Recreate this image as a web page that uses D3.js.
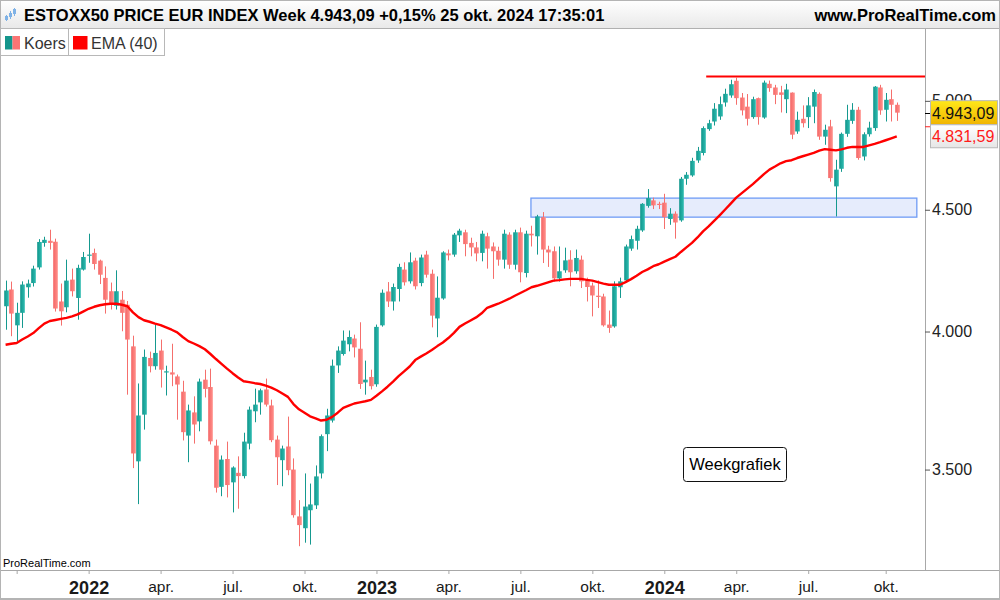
<!DOCTYPE html>
<html><head><meta charset="utf-8">
<script src="https://cdn.jsdelivr.net/npm/d3@7"></script>
<style>body{margin:0;background:#fff}svg{display:block;font-family:"Liberation Sans",Arial,sans-serif}</style>
</head><body><svg id="c" width="1000" height="600"></svg>
<script>
// ---- data (weekly candles, first week starting Monday 2021-09-20) ----
const startWeek = "2021-09-20";
const open = [4099,4166,4024,4073,4175,4192,4256,4358,4367,4363,4118,4095,4206,4132,4247,4305,4316,4284,4213,4159,
4101,4125,4105,3943,3528,3691,3899,3868,3927,3847,3845,3830,3774,3617,3699,3667,3818,3791,3582,3442,
3536,3457,3489,3478,3589,3703,3735,3782,3724,3603,3532,3579,3500,3345,3307,3365,3381,3487,3622,3670,
3871,3914,3951,3973,3934,3808,3828,3801,4024,4158,4118,4168,4247,4199,4284,4192,4309,4230,4051,4130,
4314,4309,4390,4403,4358,4339,4316,4386,4343,4325,4288,4393,4267,4403,4233,4397,4386,4468,4330,4323,
4211,4244,4288,4240,4288,4203,4182,4141,4138,4027,4020,4175,4203,4334,4367,4411,4517,4541,4526,4531,
4460,4483,4454,4637,4652,4720,4754,4865,4901,4925,4992,5026,5098,5016,4972,4922,5013,4920,5083,5065,
5041,5008,5040,4854,4914,4922,4972,5034,4830,4878,4603,4682,4843,4904,4957,4738,4841,4870,5065,4957,
5008,4981];
const high = [4202,4198,4113,4199,4206,4263,4374,4384,4414,4376,4190,4288,4251,4267,4320,4397,4334,4288,4260,4194,
4244,4160,4120,3984,3804,3931,3923,4027,3969,3870,3953,3837,3814,3727,3757,3822,3855,3859,3603,3548,
3596,3511,3545,3627,3720,3785,3785,3822,3745,3617,3582,3684,3538,3398,3487,3453,3514,3621,3712,3893,
3943,4004,4004,3988,4036,3889,3855,4027,4166,4196,4190,4271,4277,4318,4296,4309,4325,4247,4219,4323,
4330,4400,4418,4414,4380,4362,4410,4401,4360,4342,4414,4403,4414,4423,4410,4431,4478,4490,4346,4343,
4343,4338,4327,4330,4305,4214,4194,4203,4149,4082,4199,4214,4351,4389,4431,4529,4591,4553,4535,4570,
4507,4493,4645,4667,4732,4782,4878,4909,4989,5021,5059,5103,5116,5038,5033,5020,5016,5099,5099,5078,
5073,5083,5041,4948,4978,5018,5055,5041,4886,4909,4723,4849,4981,4989,4971,4850,4900,5072,5078,5038,
5055,4992];
const low = [4007,3982,3962,4014,4133,4178,4247,4342,4330,4078,4023,4075,4138,4046,4243,4275,4247,4188,4070,4086,
4086,4001,3763,3505,3385,3638,3845,3855,3789,3760,3794,3673,3600,3525,3589,3632,3753,3586,3423,3411,
3407,3358,3370,3470,3569,3664,3691,3720,3594,3448,3444,3481,3341,3250,3261,3255,3369,3470,3563,3663,
3843,3908,3924,3901,3784,3763,3782,3792,4019,4096,4082,4118,4182,4190,4166,4179,4214,4016,3978,4125,
4285,4300,4362,4302,4302,4281,4281,4251,4209,4263,4251,4250,4247,4195,4215,4343,4309,4274,4258,4198,
4198,4234,4179,4230,4172,4118,4059,4092,4019,3995,4015,4132,4194,4325,4330,4405,4509,4503,4503,4417,
4435,4376,4448,4610,4646,4709,4743,4857,4882,4909,4972,5015,4981,4930,4882,4914,4886,4914,5044,4984,
4944,4941,4818,4843,4873,4870,4893,4815,4792,4624,4471,4668,4829,4890,4723,4720,4830,4857,4933,4901,
4901,4904];
const close = [4162,4070,4073,4186,4190,4251,4362,4371,4358,4090,4079,4202,4159,4254,4299,4309,4270,4226,4125,4105,
4159,4073,3969,3555,3688,3903,3868,3918,3855,3849,3837,3800,3629,3706,3656,3811,3784,3597,3439,3534,
3448,3507,3478,3596,3709,3727,3779,3727,3601,3542,3572,3498,3349,3317,3377,3384,3477,3615,3688,3870,
3927,3965,3979,3939,3802,3818,3794,4018,4153,4118,4176,4258,4195,4277,4179,4297,4226,4062,4133,4318,
4306,4393,4410,4353,4339,4314,4397,4334,4323,4288,4397,4267,4403,4236,4397,4390,4471,4330,4318,4211,
4240,4285,4236,4295,4199,4176,4142,4136,4024,4014,4179,4199,4343,4374,4418,4526,4551,4519,4524,4468,
4483,4445,4637,4655,4718,4764,4870,4893,4962,4984,5034,5081,5013,4954,4914,5008,4922,5089,5062,5029,
5029,5055,4839,4909,4893,4978,5043,4830,4862,4640,4678,4843,4909,4957,4731,4841,4872,5069,4954,5005,
4981,4943.09];
const ema40 = [3949,3953,3956,3969,3981,3994,4013,4031,4041,4045,4049,4053,4059,4067,4078,4089,4097,4103,4107,4109,
4109,4105,4099,4075,4056,4044,4038,4031,4025,4016,4007,3997,3979,3963,3954,3944,3932,3914,3895,3877,
3859,3842,3826,3812,3809,3805,3802,3796,3789,3779,3767,3755,3729,3710,3698,3685,3678,3670,3673,3683,
3698,3715,3723,3731,3735,3739,3744,3759,3775,3792,3811,3831,3849,3867,3891,3904,3916,3929,3944,3958,
3975,3995,4018,4031,4043,4055,4071,4093,4101,4109,4119,4129,4141,4152,4163,4175,4181,4188,4195,4202,
4204,4207,4209,4209,4209,4205,4202,4196,4190,4185,4185,4185,4196,4208,4222,4237,4248,4261,4269,4280,
4290,4300,4320,4339,4358,4381,4407,4428,4452,4476,4501,4527,4553,4573,4593,4613,4635,4658,4678,4692,
4707,4717,4721,4731,4739,4747,4755,4765,4772,4769,4766,4771,4778,4782,4782,4782,4789,4796,4804,4813,
4822,4831.59];
const tickWeeks = ["2021-10-04","2022-01-03","2022-04-04","2022-07-04","2022-10-03","2023-01-02","2023-04-03","2023-07-03","2023-10-02","2024-01-01","2024-04-01","2024-07-01","2024-10-07"];
const tickLabels = ["","2022","apr.","jul.","okt.","2023","apr.","jul.","okt.","2024","apr.","jul.","okt."];
const priceTicks = [3500,4000,4500,5000];
const zoneWeeks = ["2023-07-17","2024-11-16"];
const zonePrices = [4468,4551];
const resistanceWeeks = ["2024-02-23","2024-12-30"];
const resistancePrice = [5119];
const titleText = ["ESTOXX50 PRICE EUR INDEX Week", "+0,15% 25 okt. 2024 17:35:01"];

// ---- setup ----
const svg = d3.select("#c");
const W = 1000, H = 600, PL = 0, PR = 925, PT = 28, PB = 570;
const parse = d3.utcParse("%Y-%m-%d");
const start = parse(startWeek);
const weeks = close.map((_, i) => d3.utcMonday.offset(start, i));
const nl = d3.formatLocale({decimal: ",", thousands: ".", grouping: [3], currency: ["", ""]});
const f2 = nl.format(",.2f"), f0 = nl.format(",.0f");

const x = d3.scaleUtc()
  .domain([new Date(+start - 7.08 * 864e5), new Date(+start + 7 * 166.1 * 864e5)])
  .range([PL, PR]);
const y = d3.scaleLog().domain([3176, 5365]).range([PB, PT]);

const defs = svg.append("defs");
function grad(id, stops, vertical) {
  const g = defs.append("linearGradient").attr("id", id)
    .attr("x1", 0).attr("y1", 0).attr("x2", vertical ? 0 : 1).attr("y2", vertical ? 1 : 0);
  stops.forEach(([o, c]) => g.append("stop").attr("offset", o).attr("stop-color", c));
}
grad("gUp", [[0, "#0f958b"], [0.6, "#22ada2"], [1, "#2fbcb1"]]);
grad("gDn", [[0, "#f46565"], [0.6, "#fb7f7c"], [1, "#ff908b"]]);
grad("gHead", [[0, "#ffffff"], [1, "#e9e9e9"]], true);
grad("gYel", [[0, "#ffe81a"], [1, "#f0b400"]], true);
grad("gGray", [[0, "#ffffff"], [1, "#e6e6e6"]], true);
defs.append("clipPath").attr("id", "clip").append("rect")
  .attr("x", PL).attr("y", PT).attr("width", PR - PL).attr("height", PB - PT);

svg.append("rect").attr("width", W).attr("height", H).attr("fill", "#fff");

const plot = svg.append("g").attr("clip-path", "url(#clip)");

// zone
plot.append("rect")
  .attr("x", x(parse(zoneWeeks[0])) - 0.5)
  .attr("y", y(zonePrices[1]))
  .attr("width", x(parse(zoneWeeks[1])) - x(parse(zoneWeeks[0])))
  .attr("height", y(zonePrices[0]) - y(zonePrices[1]))
  .attr("fill", "#e6ecfc").attr("stroke", "#6f9cf5").attr("stroke-width", 1.3);

// resistance
plot.append("line")
  .attr("x1", x(parse(resistanceWeeks[0]))).attr("x2", x(parse(resistanceWeeks[1])))
  .attr("y1", y(resistancePrice[0])).attr("y2", y(resistancePrice[0]))
  .attr("stroke", "#ff0000").attr("stroke-width", 2.2);

// candles
const cd = weeks.map((d, i) => ({d, o: open[i], h: high[i], l: low[i], c: close[i]}));
const cg = plot.append("g");
cg.selectAll("line.w").data(cd).join("line").attr("class", "w")
  .attr("x1", d => Math.round(x(d.d)) + 0.5).attr("x2", d => Math.round(x(d.d)) + 0.5)
  .attr("y1", d => y(d.h)).attr("y2", d => y(d.l))
  .attr("stroke", d => d.c >= d.o ? "#15998f" : "#f56f6c").attr("stroke-width", 1);
cg.selectAll("rect.b").data(cd).join("rect").attr("class", "b")
  .attr("x", d => Math.round(x(d.d)) - 1.8).attr("width", 4.6)
  .attr("y", d => y(Math.max(d.o, d.c)))
  .attr("height", d => Math.max(1.2, Math.abs(y(d.o) - y(d.c))))
  .attr("fill", d => d.c >= d.o ? "url(#gUp)" : "url(#gDn)");

// EMA
plot.append("path").datum(ema40)
  .attr("d", d3.line().x((d, i) => x(weeks[i])).y(d => y(d)).curve(d3.curveLinear))
  .attr("fill", "none").attr("stroke", "#ff0000").attr("stroke-width", 2.4).attr("stroke-linejoin", "round");

// frame lines
svg.append("line").attr("x1", PR + 0.5).attr("x2", PR + 0.5).attr("y1", PT).attr("y2", PB).attr("stroke", "#a8a8a8");
svg.append("line").attr("x1", 0).attr("x2", W).attr("y1", PB + 0.5).attr("y2", PB + 0.5).attr("stroke", "#a8a8a8");
svg.append("line").attr("x1", 0).attr("x2", W).attr("y1", H - 1.5).attr("y2", H - 1.5).attr("stroke", "#b4b4b4");
svg.append("line").attr("x1", 0.5).attr("x2", 0.5).attr("y1", PT).attr("y2", H).attr("stroke", "#b4b4b4");

// x axis
const xa = svg.append("g").attr("transform", `translate(0,${PB})`)
  .call(d3.axisBottom(x).tickValues(tickWeeks.map(parse)).tickSize(4).tickPadding(7)
    .tickFormat((d, i) => tickLabels[i]));
xa.select(".domain").remove();
xa.selectAll(".tick line").attr("stroke", "#a8a8a8");
xa.selectAll(".tick text").attr("fill", "#1a1a1a")
  .attr("font-family", '"Liberation Sans",Arial,sans-serif')
  .attr("font-size", (d, i) => /^\d{4}$/.test(tickLabels[i]) ? 18 : 15.5)
  .attr("font-weight", (d, i) => /^\d{4}$/.test(tickLabels[i]) ? "bold" : "normal");

// y axis (the 5.000 label sits partly under the last-price box, as in the original)
const ya = svg.append("g").attr("transform", `translate(${PR},0)`)
  .call(d3.axisRight(y).tickValues(priceTicks).tickSize(5).tickPadding(2).tickFormat(d => f0(d)));
ya.select(".domain").remove();
ya.selectAll(".tick line").attr("stroke", "#555");
ya.selectAll(".tick text").attr("fill", "#222").attr("font-size", 16)
  .attr("font-family", '"Liberation Sans",Arial,sans-serif');

// price labels
const last = close[close.length - 1], lastE = ema40[ema40.length - 1];
const yl = y(last), ye = y(lastE);
svg.append("line").attr("x1", PR).attr("x2", PR + 5).attr("y1", Math.round(yl) + 0.5).attr("y2", Math.round(yl) + 0.5).attr("stroke", "#000");
svg.append("rect").attr("x", 930.5).attr("y", yl - 12).attr("width", 67).attr("height", 24)
  .attr("fill", "url(#gYel)").attr("stroke", "#b8b8b8");
svg.append("text").attr("x", 932).attr("y", yl + 6).attr("font-size", 16).attr("fill", "#111").text(f2(last));
svg.append("line").attr("x1", PR).attr("x2", PR + 5).attr("y1", ye - 9.5).attr("y2", ye - 9.5).attr("stroke", "#ff2020");
svg.append("rect").attr("x", 930.5).attr("y", ye - 11.5).attr("width", 67).attr("height", 23)
  .attr("fill", "url(#gGray)").attr("stroke", "#b8b8b8");
svg.append("text").attr("x", 932).attr("y", ye + 6).attr("font-size", 16).attr("fill", "#ff1a1a").text(f2(lastE));

// header
svg.append("rect").attr("x", 0).attr("y", 0).attr("width", W).attr("height", PT).attr("fill", "url(#gHead)");
svg.append("line").attr("x1", 0).attr("x2", W).attr("y1", PT + 0.5).attr("y2", PT + 0.5).attr("stroke", "#b0b0b0");
svg.append("rect").attr("x", 0.5).attr("y", 0.5).attr("width", W - 1).attr("height", H - 1).attr("fill", "none").attr("stroke", "#b4b4b4");
const icon = svg.append("g").attr("stroke", "#7fb2e6").attr("stroke-width", 1);
[[6, 15, 21, 16, 20], [10, 11, 19, 13, 17], [14, 8, 16, 9, 14]].forEach(([cx, t, b, bt, bb]) => {
  icon.append("line").attr("x1", cx + 0.5).attr("x2", cx + 0.5).attr("y1", t).attr("y2", b);
  icon.append("rect").attr("x", cx - 1).attr("y", bt).attr("width", 3).attr("height", bb - bt).attr("fill", "#7fb2e6").attr("stroke", "none");
});
svg.append("text").attr("x", 24).attr("y", 21).attr("font-size", 16.5).attr("font-weight", "bold").attr("fill", "#000")
  .text(`${titleText[0]} ${f2(last)} ${titleText[1]}`);
svg.append("text").attr("x", 996).attr("y", 21).attr("text-anchor", "end").attr("font-size", 16.5).attr("font-weight", "bold").attr("fill", "#000")
  .text("www.ProRealTime.com");

// legend
const lg = svg.append("g");
lg.append("rect").attr("x", 0.5).attr("y", 28.5).attr("width", 164).attr("height", 27).attr("fill", "#fff").attr("stroke", "#b8b8b8");
lg.append("line").attr("x1", 68.5).attr("x2", 68.5).attr("y1", 29).attr("y2", 55).attr("stroke", "#b8b8b8");
lg.append("rect").attr("x", 5).attr("y", 36).attr("width", 7.5).attr("height", 13.5).attr("fill", "#14968c");
lg.append("rect").attr("x", 12.5).attr("y", 36).attr("width", 7.5).attr("height", 13.5).attr("fill", "#fb7474");
lg.append("text").attr("x", 24).attr("y", 48.5).attr("font-size", 16).attr("fill", "#333").text("Koers");
lg.append("rect").attr("x", 73).attr("y", 36).attr("width", 14.5).attr("height", 13.5).attr("fill", "#ff0000");
lg.append("text").attr("x", 91).attr("y", 48.5).attr("font-size", 16).attr("fill", "#333").text("EMA (40)");

// watermark + note
svg.append("text").attr("x", 3).attr("y", 567).attr("font-size", 11).attr("fill", "#000").text("ProRealTime.com");
svg.append("rect").attr("x", 683.5).attr("y", 447.5).attr("width", 103).attr("height", 34).attr("rx", 3)
  .attr("fill", "#fff").attr("stroke", "#111");
svg.append("text").attr("x", 735).attr("y", 470).attr("text-anchor", "middle").attr("font-size", 16.5).attr("fill", "#000").text("Weekgrafiek");
</script></body></html>
